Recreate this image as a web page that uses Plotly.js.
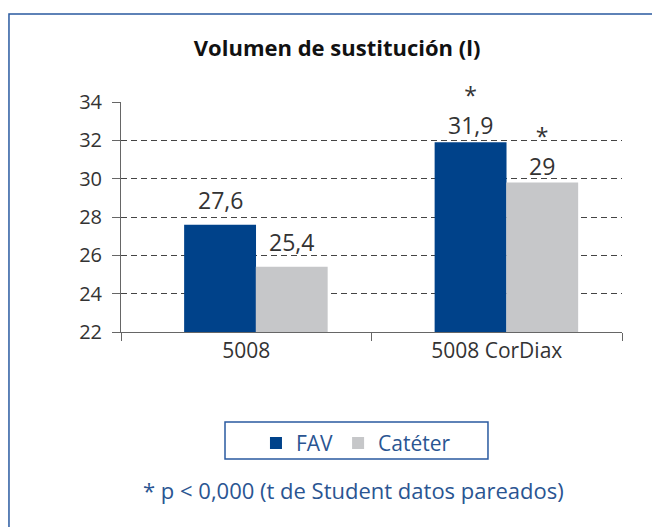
<!DOCTYPE html>
<html><head><meta charset="utf-8">
<script src="https://cdn.plot.ly/plotly-3.0.1.min.js"></script>
<style>html,body{margin:0;padding:0;background:#fff}#c{width:652px;height:527px}</style>
</head><body><div id="c"></div>
<script>
const categories = ["5008", "5008 CorDiax"];
const favValues = [27.6, 31.9];
const catValues = [25.4, 29.8];
const favLabels = ["27,6", "31,9"];
const catLabels = ["25,4", "29"];
const favStars = ["", "*"];
const catStars = ["", "*"];
const yTicks = [22, 24, 26, 28, 30, 32, 34];

const FONT = "Open Sans, Noto Sans, sans-serif";
const blue = "#00428a", grey = "#c6c7c9", textBlue = "#2a5592";
const W = 0.287, favOff = -0.248, catOff = 0.038;

const traces = [
  {type:"bar", name:"FAV", x:categories, y:favValues, marker:{color:blue}, width:W, offset:favOff},
  {type:"bar", name:"Catéter", x:categories, y:catValues, marker:{color:grey}, width:W, offset:catOff}
];

const annotations = [];
function addLabels(vals, labels, stars, off) {
  vals.forEach((v, i) => {
    const xc = i + off + W / 2;
    const txt = stars[i] ? stars[i] + "<br>" + labels[i] : labels[i];
    annotations.push({x:xc, y:v, xref:"x", yref:"y", text:txt, showarrow:false,
      xanchor:"center", yanchor:"bottom", yshift: stars[i] ? -1 : 7,
      font:{family:FONT, size:23, color:"#333"}});
  });
}
addLabels(favValues, favLabels, favStars, favOff);
addLabels(catValues, catLabels, catStars, catOff);

annotations.push({text:"* p < 0,000 (t de Student datos pareados)", xref:"paper", yref:"paper", x:0.465, y:-0.687,
  xanchor:"center", yanchor:"middle", showarrow:false, font:{family:FONT,size:22,color:textBlue}});

const layout = {
  width:652, height:527,
  margin:{l:121, r:30, t:102, b:195},
  paper_bgcolor:"#fff", plot_bgcolor:"#fff",
  font:{family:FONT, color:"#333"},
  title:{text:"<b>Volumen de sustitución (l)</b>", x:0.517, xanchor:"center", y:0.909, yanchor:"middle",
         font:{family:FONT, size:22, color:"#111"}},
  showlegend:true,
  barmode:"group",
  xaxis:{type:"category", range:[-0.5, 1.5], autorange:false, showline:true, linecolor:"#666", linewidth:1,
         ticks:"outside", tickson:"boundaries", ticklen:8, tickcolor:"#666", showgrid:false,
         tickfont:{family:FONT,size:21,color:"#333"}},
  yaxis:{range:[22,34], autorange:false, tickvals:yTicks, ticktext:yTicks.map(String), showline:true, linecolor:"#666", linewidth:1,
         ticks:"outside", ticklen:8, tickcolor:"#666", showgrid:true, gridcolor:"#444", griddash:"6px,4px", gridwidth:1,
         zeroline:false, ticklabelstandoff:6, tickfont:{family:FONT,size:20,color:"#333"}},
  legend:{orientation:"h", x:0.469, xanchor:"center", y:-0.395, yanchor:"top",
          borderwidth:0, font:{family:FONT,size:21,color:textBlue},
          itemwidth:30, traceorder:"normal", bgcolor:"rgba(0,0,0,0)"},
  annotations:annotations,
  shapes:[
    {type:"rect", xref:"paper", yref:"paper", x0:-0.2236, x1:1.08, y0:-0.92, y1:1.3826,
     line:{color:"#2a5aa0", width:1.5}, fillcolor:"rgba(0,0,0,0)", layer:"below"},
    {type:"rect", xref:"paper", yref:"paper", x0:0.2076, x1:0.7325, y0:-0.5522, y1:-0.3913,
     line:{color:"#2a5aa0", width:1.5}, fillcolor:"rgba(0,0,0,0)", layer:"below"}
  ]
};
Plotly.newPlot("c", traces, layout, {displayModeBar:false, staticPlot:true});
</script></body></html>
